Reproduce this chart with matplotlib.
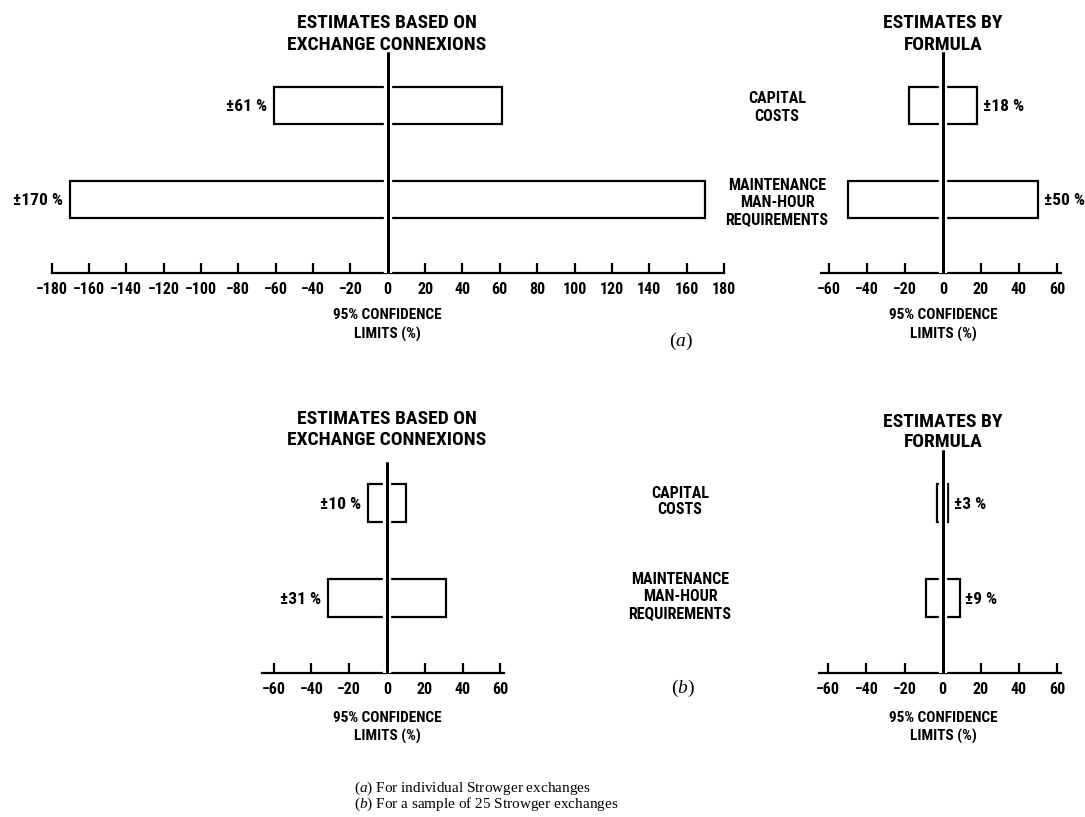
import matplotlib
matplotlib.use("Agg")
import matplotlib.pyplot as plt
import matplotlib.patheffects as pe
from matplotlib import font_manager

# values
rows = ["capital", "maintenance"]
row_labels = {"capital": ["CAPITAL", "COSTS"],
              "maintenance": ["MAINTENANCE", "MAN-HOUR", "REQUIREMENTS"]}
conn_a = [61, 170]      # (a) estimates based on exchange connexions, +/- %
formula_a = [18, 50]    # (a) estimates by formula
conn_b = [10, 31]       # (b) sample of 25 exchanges
formula_b = [3, 9]
ticks_wide = list(range(-180, 181, 20))
ticks_narrow = [-60, -40, -20, 0, 20, 40, 60]
title_conn = ["ESTIMATES BASED ON", "EXCHANGE CONNEXIONS"]
title_formula = ["ESTIMATES BY", "FORMULA"]
xlabel_lines = ["95% CONFIDENCE", "LIMITS (%)"]
captions = [r"($\mathit{a}$) For individual Strowger exchanges",
            r"($\mathit{b}$) For a sample of 25 Strowger exchanges"]

names = {f.name for f in font_manager.fontManager.ttflist}
cond = next((n for n in ["Liberation Sans Narrow", "Roboto Condensed",
                         "Open Sans Condensed", "DejaVu Sans"] if n in names),
            "DejaVu Sans")
SANS = [cond, "DejaVu Sans"]
SERIF = ["Liberation Serif", "DejaVu Serif"]
plt.rcParams["font.family"] = SANS
plt.rcParams["font.weight"] = "bold"
plt.rcParams["font.stretch"] = "condensed"
plt.rcParams["mathtext.fontset"] = "custom"
plt.rcParams["mathtext.rm"] = "Liberation Serif:weight=normal"
plt.rcParams["mathtext.it"] = "Liberation Serif:style=italic:weight=normal"

W, H = 1085, 817
fig = plt.figure(figsize=(W / 100, H / 100), dpi=100)


def fx(x):
    return x / W


def fy(y):
    return 1 - y / H


def lines_at(x, ys, lines, size, **kw):
    for yy, s in zip(ys, lines):
        fig.text(fx(x), fy(yy), s, ha="center", va="center_baseline",
                 fontsize=size, fontweight="bold", **kw)


def panel(x0, x1, y_axis, y_top, lo, hi, ylo, yhi, vals, ticks, side):
    ax = fig.add_axes([fx(x0), fy(y_axis), fx(x1) - fx(x0), (y_axis - y_top) / H])
    ypos = [1, 0]
    ax.barh(ypos, [2 * v for v in vals], left=[-v for v in vals], height=0.4,
            facecolor="white", edgecolor="black", linewidth=1.6, zorder=3)
    ax.axvline(0, color="black", linewidth=2.0, zorder=5, clip_on=False,
               solid_capstyle="butt",
               path_effects=[pe.withStroke(linewidth=6, foreground="white"),
                             pe.Normal()])
    for y, v in zip(ypos, vals):
        if side == "left":
            ax.annotate(f"±{v} %", (-v, y), xytext=(-5, 0),
                        textcoords="offset points", ha="right", va="center_baseline",
                        fontsize=12.5, fontweight="bold")
        else:
            ax.annotate(f"±{v} %", (v, y), xytext=(4, 0),
                        textcoords="offset points", ha="left", va="center_baseline",
                        fontsize=12.5, fontweight="bold")
    ax.set_xlim(lo, hi)
    ax.set_ylim(ylo, yhi)
    for s in ["top", "left", "right"]:
        ax.spines[s].set_visible(False)
    ax.spines["bottom"].set_linewidth(1.6)
    ax.set_yticks([])
    ax.set_xticks(ticks)
    ax.tick_params(axis="x", direction="in", length=7, width=1.6, pad=7,
                   labelsize=11.5)
    ax.patch.set_alpha(0)
    return ax


# (a) individual exchanges
panel(51.5, 724, 272.7, 52, -180, 180, -0.778, 1.567, conn_a, ticks_wide, "left")
panel(821.4, 1060.8, 272.7, 52, -64, 62, -0.778, 1.567, formula_a, ticks_narrow, "right")
# (b) sample of 25 exchanges
panel(262.3, 504.2, 672.7, 462, -66, 62, -0.79, 1.432, conn_b, ticks_narrow, "left")
panel(818.8, 1060.9, 672.7, 450, -65, 62, -0.79, 1.559, formula_b, ticks_narrow, "right")

# titles
lines_at(387, [21, 43], title_conn, 14)
lines_at(943, [21, 43], title_formula, 14)
lines_at(387, [417, 438], title_conn, 14)
lines_at(943, [420, 440], title_formula, 14)

# axis labels
for x, ys in [(387, [314, 333]), (943, [314, 333]), (387, [717, 735]), (943, [717, 735])]:
    lines_at(x, ys, xlabel_lines, 11)

# row labels between panels
lines_at(777, [97, 115], row_labels["capital"], 11.5)
lines_at(777, [184, 201, 218], row_labels["maintenance"], 11.5)
lines_at(680, [492, 508], row_labels["capital"], 11.5)
lines_at(680, [578, 595, 612], row_labels["maintenance"], 11.5)

# panel markers and caption
fig.text(fx(681), fy(341), r"($\mathit{a}$)", ha="center", va="center",
         fontsize=14, family=SERIF, fontweight="normal")
fig.text(fx(683), fy(688), r"($\mathit{b}$)", ha="center", va="center",
         fontsize=14, family=SERIF, fontweight="normal")
fig.text(fx(354), fy(788), captions[0], ha="left", va="center",
         fontsize=11, family=SERIF, fontweight="normal")
fig.text(fx(354), fy(804), captions[1], ha="left", va="center",
         fontsize=11, family=SERIF, fontweight="normal")

fig.savefig("out.png", dpi=100, facecolor="white")
